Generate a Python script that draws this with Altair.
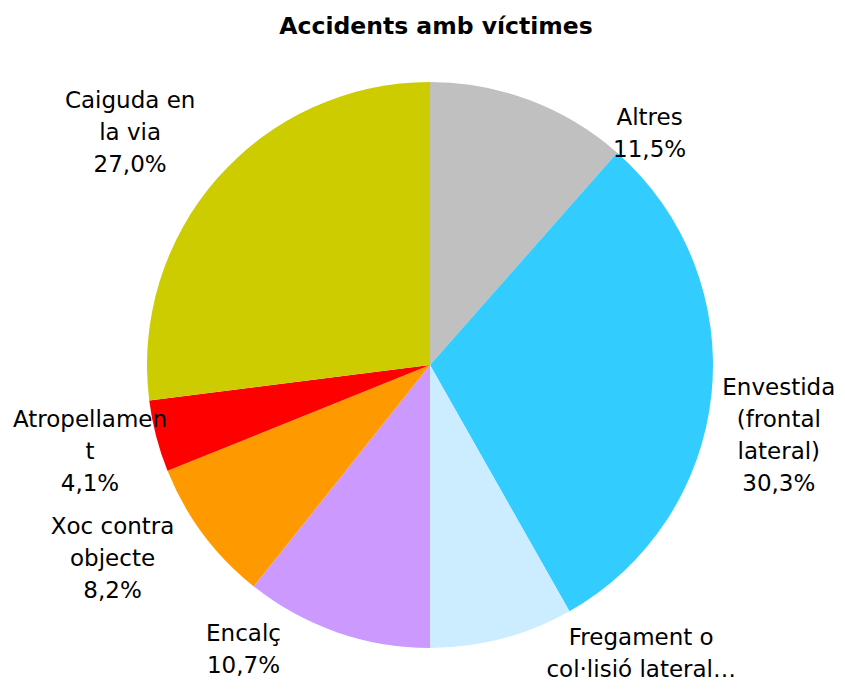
import math
import altair as alt
import pandas as pd

categories = ["Altres", "Envestida (frontal lateral)", "Fregament o col·lisió lateral",
              "Encalç", "Xoc contra objecte", "Atropellament", "Caiguda en la via"]
values = [11.5, 30.3, 8.2, 10.7, 8.2, 4.1, 27.0]
label_names = ["Altres", "Envestida\n(frontal\nlateral)", "Fregament o\ncol·lisió lateral…",
               "Encalç", "Xoc contra\nobjecte", "Atropellamen\nt", "Caiguda en\nla via"]
show_pct = [True, True, False, True, True, True, True]
colors = ["#C0C0C0", "#33CCFF", "#CCECFF", "#CC99FF", "#FF9900", "#FF0000", "#CCCC00"]

# label layout nudges (degrees offset from slice mid-angle, radius in px)
label_dtheta = [22.8, 5.6, -21.4, 13.9, 5.3, 0.2, -3.7]
label_radius = [319, 356, 358, 341, 372, 351, 379]
LINE_H = 32

total = sum(values)
rows = []
cum = 0.0
for i, (c, v) in enumerate(zip(categories, values)):
    mid = (cum + v / 2) / total * 360
    cum += v
    txt = label_names[i]
    if show_pct[i]:
        txt += "\n" + f"{v:.1f}".replace(".", ",") + "%"
    n = txt.count("\n") + 1
    a = math.radians(mid + label_dtheta[i])
    x = label_radius[i] * math.sin(a)
    y = -label_radius[i] * math.cos(a) - (n - 1) * LINE_H / 2
    ang = math.degrees(math.atan2(x, -y)) % 360
    r = math.hypot(x, y)
    rows.append({"cat": c, "value": v, "order": i, "label": txt, "ang": ang, "r": r})
df = pd.DataFrame(rows)

pie = alt.Chart(df).mark_arc(outerRadius=283, stroke=None).encode(
    theta=alt.Theta("value:Q", stack=True),
    color=alt.Color("cat:N", scale=alt.Scale(domain=categories, range=colors), legend=None),
    order=alt.Order("order:Q"),
)

labels = alt.Chart(df).mark_text(
    font="DejaVu Sans", fontSize=23, align="center", baseline="middle",
    lineHeight=LINE_H, lineBreak="\n", color="black"
).encode(
    theta=alt.Theta("ang:Q", scale=alt.Scale(domain=[0, 360], range=[0, 6.283185307])),
    radius=alt.Radius("r:Q", scale=None),
    text="label:N",
)

chart = alt.layer(pie, labels).resolve_scale(theta="independent").properties(
    width=814, height=634,
    padding={"left": 15, "top": 40, "right": 0, "bottom": 3},
    autosize=alt.AutoSizeParams(type="none"),
    title=alt.TitleParams("Accidents amb víctimes", font="DejaVu Sans", fontSize=23.5,
                          fontWeight="bold", anchor="middle", color="black", dy=-6, dx=6),
).configure_view(stroke=None)

chart.save("out.html", embed_options={"renderer": "svg", "actions": False})
